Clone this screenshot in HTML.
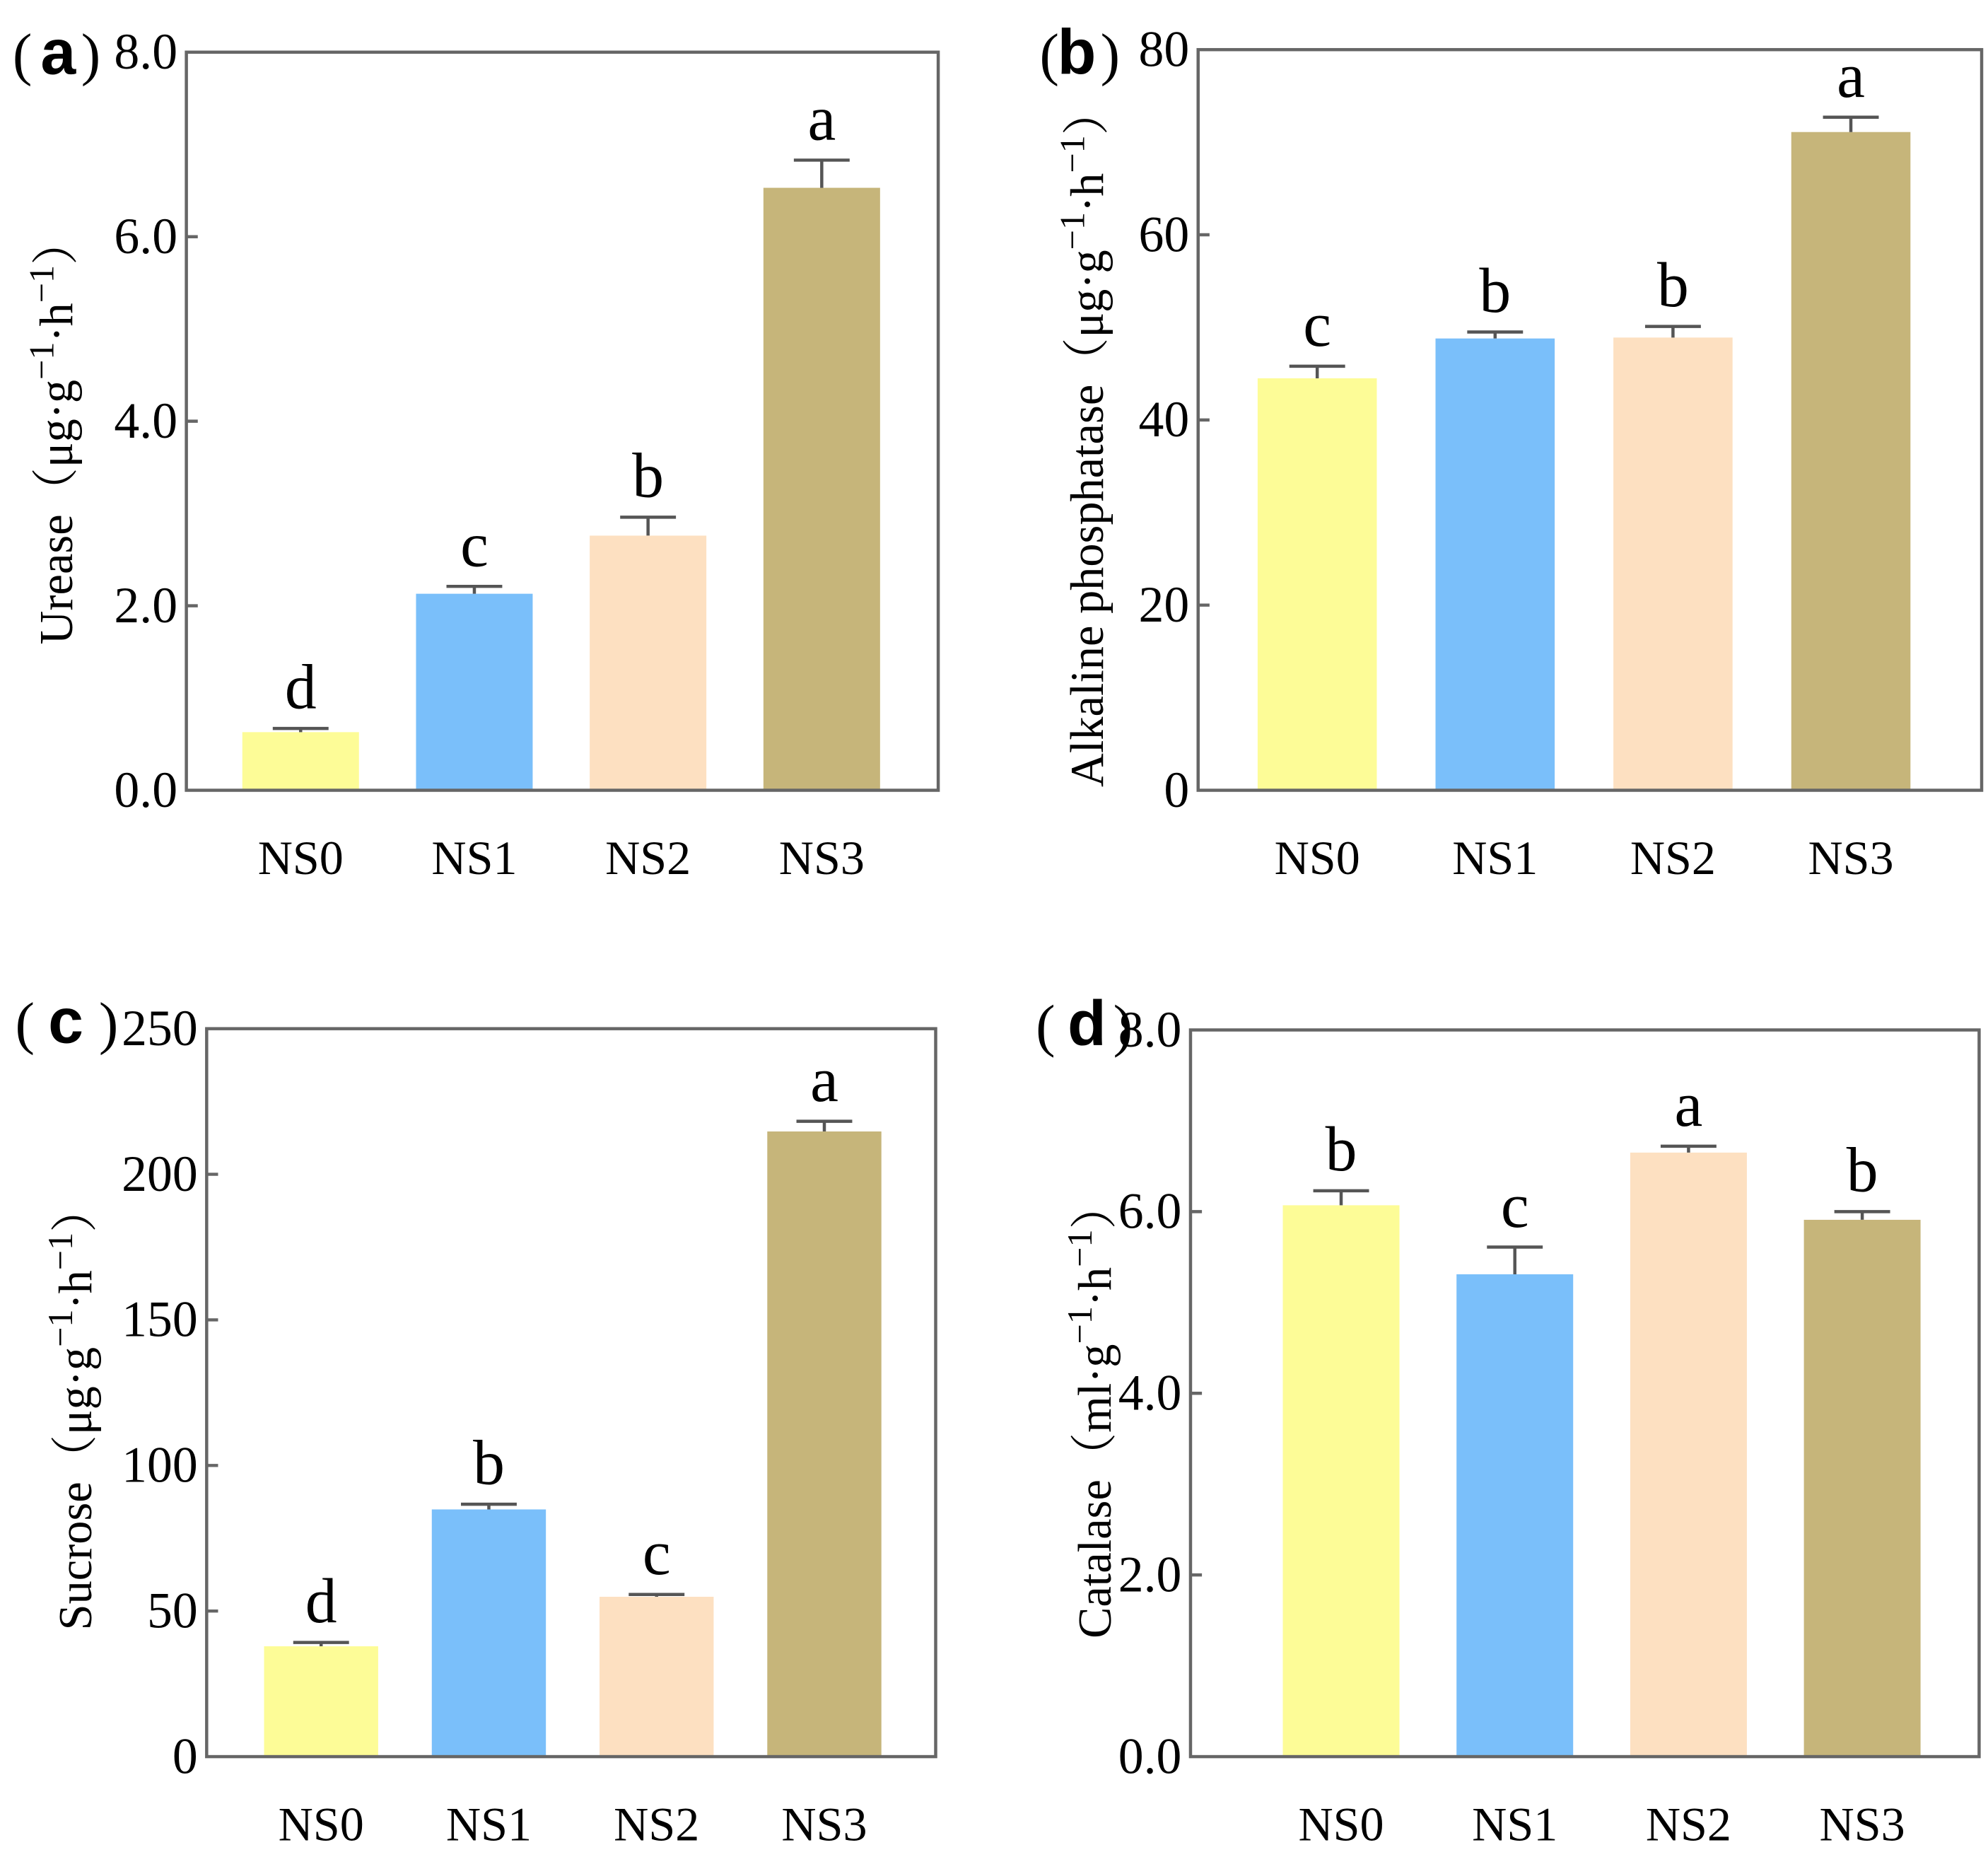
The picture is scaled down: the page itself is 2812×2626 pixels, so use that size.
<!DOCTYPE html>
<html><head><meta charset="utf-8"><style>
html,body{margin:0;padding:0;background:#fff;}
svg{display:block;}
text{font-family:"Liberation Serif","Noto Serif CJK SC",serif;fill:#000;}
.lab{font-family:"Liberation Sans","Noto Sans CJK SC",sans-serif;font-weight:bold;}
</style></head><body>
<svg id="fig" width="2812" height="2626" viewBox="0 0 1568 1464" xmlns="http://www.w3.org/2000/svg"></svg>
<script>
const categories = ["NS0","NS1","NS2","NS3"];
const colors = ["#FDFC97","#7ABFFA","#FDE0C1","#C6B57A"];
const ureaseValues = [0.63, 2.13, 2.76, 6.53];
const ureaseErrors = [0.04, 0.08, 0.20, 0.30];
const ureaseLetters = ["d","c","b","a"];
const ureaseTicks = ["0.0","2.0","4.0","6.0","8.0"];
const alpValues = [44.5, 48.8, 48.9, 71.1];
const alpErrors = [1.3, 0.7, 1.2, 1.6];
const alpLetters = ["c","b","b","a"];
const alpTicks = ["0","20","40","60","80"];
const sucroseValues = [37.9, 84.9, 54.9, 214.7];
const sucroseErrors = [1.3, 1.8, 0.8, 3.5];
const sucroseLetters = ["d","b","c","a"];
const sucroseTicks = ["0","50","100","150","200","250"];
const catalaseValues = [6.07, 5.31, 6.65, 5.91];
const catalaseErrors = [0.16, 0.30, 0.07, 0.09];
const catalaseLetters = ["b","c","a","b"];
const catalaseTicks = ["0.0","2.0","4.0","6.0","8.0"];

const NS="http://www.w3.org/2000/svg";
const svg=document.getElementById('fig');
function mk(tag,attrs,parent){const e=document.createElementNS(NS,tag);for(const k in attrs)e.setAttribute(k,attrs[k]);(parent||svg).appendChild(e);return e;}

function panel(cfg){
  const g=mk('g',{});
  
  
  const {x0,x1,y0,y1,max}=cfg;
  const ys=v=>y1-(v/max)*(y1-y0);
  const xs=i=>x0+(x1-x0)*cfg.first+i*cfg.gap;
  cfg.values.forEach((v,i)=>{
    const cx=xs(i);
    const r=mk('rect',{x:cx-cfg.bw/2,y:ys(v),width:cfg.bw,height:y1-ys(v),fill:colors[i]},g);
    
    
    const top=ys(v+cfg.errors[i]);
    const eb=mk('path',{d:`M${cx},${ys(v)}V${top}M${cx-22},${top}H${cx+22}`,stroke:'#555','stroke-width':2.5,fill:'none'},g);
    
    
    const t=mk('text',{x:cx,y:top-16,'text-anchor':'middle','font-size':50},g);
    t.textContent=cfg.letters[i];
    
    
    const xl=mk('text',{x:cx,y:y1+66,'text-anchor':'middle','font-size':38},g);
    xl.textContent=categories[i];
    
    
  });
  cfg.ticks.forEach((t,i)=>{
    const v=i*max/(cfg.ticks.length-1);
    const y=ys(v);
    if(i>0&&i<cfg.ticks.length-1) mk('line',{x1:x0,x2:x0+9,y1:y,y2:y,stroke:'#666','stroke-width':2.5},g);
    const tl=mk('text',{x:x0-7,y:y+13,'text-anchor':'end','font-size':40},g);
    tl.textContent=t;
    
    
  });
  const box=mk('rect',{x:x0,y:y0,width:x1-x0,height:y1-y0,fill:'none',stroke:'#666','stroke-width':2.5},g);
  
  
  const yt=mk('text',{transform:`translate(${cfg.tx},${cfg.tcy}) rotate(-90)`,'text-anchor':'middle','font-size':37},g);
  yt.innerHTML=cfg.title;
  
  
  const pg=mk('g',{},g);
  
  
  const lp=cfg.lab;
  mk('text',{x:lp[0],y:cfg.ly,'font-size':46},pg).textContent='(';
  mk('text',{x:lp[1],y:cfg.ly,'font-size':50,class:'lab'},pg).textContent=cfg.letter;
  mk('text',{x:lp[2],y:cfg.ly,'font-size':46},pg).textContent=')';
}
const unit=(u)=>`（${u}·g<tspan dy="-15" font-size="28">−1</tspan><tspan dy="15">·h</tspan><tspan dy="-15" font-size="28">−1</tspan><tspan dy="15">）</tspan>`;
panel({name:'panel-a-urease',x0:147,x1:740,y0:41,y1:623,max:8,values:ureaseValues,errors:ureaseErrors,letters:ureaseLetters,ticks:ureaseTicks,first:0.152,gap:137,bw:92,tx:57,tcy:340,title:'Urease'+unit('μg'),letter:'a',lab:[10,32,64],ly:58});
panel({name:'panel-b-alkaline-phosphatase',x0:945,x1:1563,y0:39,y1:623,max:80,values:alpValues,errors:alpErrors,letters:alpLetters,ticks:alpTicks,first:0.152,gap:140.3,bw:94,tx:870,tcy:345,title:'Alkaline phosphatase'+unit('μg'),letter:'b',lab:[820,834,868],ly:58});
panel({name:'panel-c-sucrase',x0:163,x1:738,y0:811,y1:1385,max:250,values:sucroseValues,errors:sucroseErrors,letters:sucroseLetters,ticks:sucroseTicks,first:0.157,gap:132.3,bw:90,tx:72,tcy:1110,title:'Sucrose'+unit('μg'),letter:'c',lab:[12,38,78],ly:822});
panel({name:'panel-d-catalase',x0:939,x1:1561,y0:812,y1:1385,max:8,values:catalaseValues,errors:catalaseErrors,letters:catalaseLetters,ticks:catalaseTicks,first:0.191,gap:137,bw:92,tx:876,tcy:1112,title:'Catalase'+unit('ml'),letter:'d',lab:[817,842,878],ly:824});
</script>
</body></html>
